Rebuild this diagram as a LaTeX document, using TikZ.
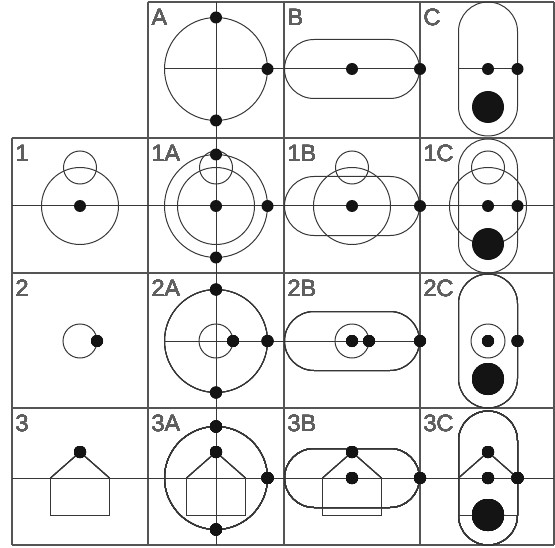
\documentclass[tikz,border=0pt]{standalone}
\usepackage{fontspec}
\setmainfont{Liberation Sans}
\definecolor{ink}{RGB}{55,55,55}
\definecolor{blob}{RGB}{20,20,20}
\definecolor{rule}{RGB}{85,85,85}
\definecolor{tag}{RGB}{95,95,95}
\newcommand{\dotat}[2]{\fill[blob] (#1,#2) circle (6bp);}% x y
\newcommand{\bigdotat}[2]{\fill[blob] (#1,#2) circle (16bp);}
\newcommand{\hstadium}[2]{\draw[rounded corners=29.5bp] (#1-67.5,#2-29.5) rectangle (#1+67.5,#2+29.5);}
\newcommand{\vstadium}[2]{\draw[rounded corners=29.5bp] (#1-29.5,#2-67) rectangle (#1+29.5,#2+67);}
\newcommand{\house}[2]{% x y of the eave line
  \draw (#1-29.5,#2) -- (#1,#2-26) -- (#1+29.5,#2);
  \draw (#1-29.5,#2) rectangle (#1+29.5,#2+37);
}
\newcommand{\ring}[3]{\draw (#1,#2) circle (#3bp);}% x y radius

\begin{document}
\begin{tikzpicture}[x=1bp,y=-1bp,line width=1bp,draw=ink]
  \useasboundingbox (0,0) rectangle (555,548);
  % grid
  \draw[rule,line width=1.3bp] (148,2) -- (554,2);
  \foreach \y in {138,273,408,545}
    \draw[rule,line width=1.3bp] (12,\y) -- (554,\y);
  \draw[rule,line width=1.3bp] (12,138) -- (12,545);
  \foreach \x in {148,284,420,554}
    \draw[rule,line width=1.3bp] (\x,2) -- (\x,545);
  % axes
  \draw (216,2) -- (216,545);
  \draw (164.5,69) -- (420,69);
  \draw (458.5,69) -- (517.5,69);
  \draw (12,206) -- (554,206);
  \draw (164.5,341) -- (420,341);
  \draw (12,478) -- (554,478);
  % row A
  \ring{216}{69}{51.5}
  \hstadium{352}{69}
  \vstadium{488}{69}
  \dotat{216}{17.5}\dotat{267.5}{69}\dotat{216}{120.5}
  \dotat{352}{69}\dotat{420}{69}
  \dotat{488}{69}\dotat{517.5}{69}\bigdotat{488}{107}
  % row 1
  \foreach \x in {80,216,352,488}{
    \ring{\x}{206}{38.5}
    \ring{\x}{167.5}{16.5}
  }
  \ring{216}{206}{51.5}
  \hstadium{352}{206}
  \vstadium{488}{206}
  \dotat{80}{206}
  \dotat{216}{154.5}\dotat{216}{206}\dotat{267.5}{206}\dotat{216}{257.5}
  \dotat{352}{206}\dotat{420}{206}
  \dotat{488}{206}\dotat{517.5}{206}\bigdotat{488}{244}
  % row 2
  \foreach \x in {80,216,352,488}
    \ring{\x}{341}{17}
  \ring{216}{341}{51.5}
  \hstadium{352}{341}
  \vstadium{488}{341}
  \dotat{97}{341}
  \dotat{216}{289.5}\dotat{233}{341}\dotat{267.5}{341}\dotat{216}{392.5}
  \dotat{352}{341}\dotat{369}{341}\dotat{420}{341}
  \dotat{488}{341}\dotat{517.5}{341}\bigdotat{488}{379}
  % row 3
  \foreach \x in {80,216,352,488}
    \house{\x}{478}
  \ring{216}{478}{51.5}
  \hstadium{352}{478}
  \vstadium{488}{478}
  \dotat{80}{452}
  \dotat{216}{426.5}\dotat{216}{452}\dotat{267.5}{478}\dotat{216}{529.5}
  \dotat{352}{452}\dotat{352}{478}\dotat{420}{478}
  \dotat{488}{452}\dotat{488}{478}\dotat{517.5}{478}\bigdotat{488}{515}
  % labels
  \foreach \x/\y/\name in {148/2/A,284/2/B,420/2/C,
      12/138/1,148/138/1A,284/138/1B,420/138/1C,
      12/273/2,148/273/2A,284/273/2B,420/273/2C,
      12/408/3,148/408/3A,284/408/3B,420/408/3C}
    \node[anchor=north west,inner sep=0pt,text=tag,font=\fontsize{23.5}{23.5}\selectfont]
      (tag\name) at (\x+3,\y+6.5) {\name};
\end{tikzpicture}
\end{document}
